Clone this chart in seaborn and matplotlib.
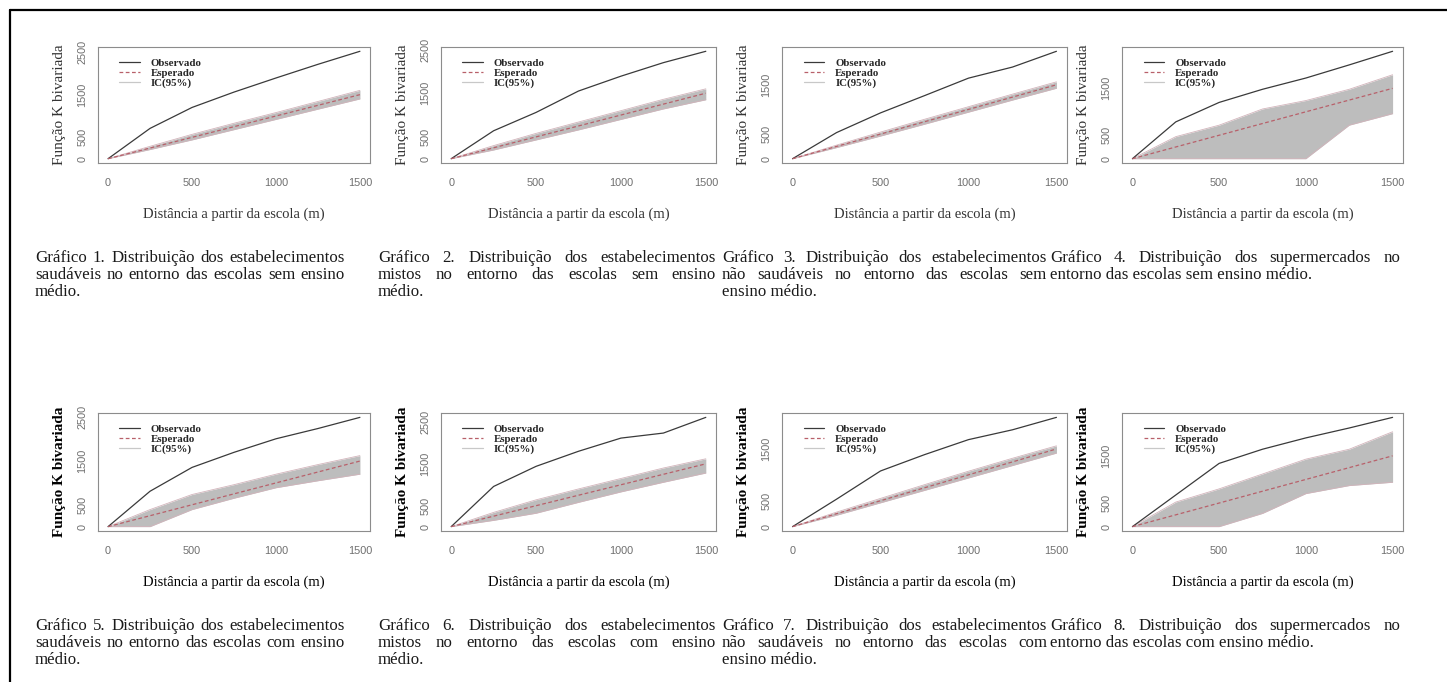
import matplotlib
matplotlib.use("Agg")
import numpy as np
import seaborn as sns
import matplotlib.pyplot as plt
from matplotlib.lines import Line2D

sns.set_style("white")
plt.rcParams['font.family'] = ['Liberation Serif', 'DejaVu Serif']

# distance (m) at which the K functions were evaluated
dist = [0, 250, 500, 750, 1000, 1250, 1500]
expected = [0, 250, 500, 750, 1000, 1250, 1500]

# observed curve and 95% envelope (lo, hi) for each chart
obs_1 = [0, 710, 1200, 1560, 1890, 2210, 2515]
lo_1 = [0, 215, 440, 680, 920, 1160, 1400]
hi_1 = [0, 290, 570, 830, 1080, 1340, 1600]

obs_2 = [0, 640, 1060, 1550, 1890, 2200, 2460]
lo_2 = [0, 200, 430, 660, 900, 1140, 1350]
hi_2 = [0, 300, 580, 840, 1100, 1360, 1600]

obs_3 = [0, 530, 930, 1280, 1635, 1860, 2180]
lo_3 = [0, 225, 460, 700, 945, 1190, 1430]
hi_3 = [0, 275, 540, 800, 1055, 1310, 1560]

obs_4 = [0, 785, 1200, 1480, 1720, 2000, 2290]
lo_4 = [0, 0, 0, 0, 0, 715, 960]
hi_4 = [0, 470, 715, 1060, 1240, 1480, 1790]

obs_5 = [0, 810, 1355, 1700, 2010, 2245, 2500]
lo_5 = [0, 0, 390, 650, 890, 1050, 1200]
hi_5 = [0, 390, 735, 960, 1200, 1420, 1625]

obs_6 = [0, 960, 1440, 1800, 2115, 2235, 2610]
lo_6 = [0, 150, 320, 580, 830, 1060, 1280]
hi_6 = [0, 340, 640, 900, 1150, 1400, 1620]

obs_7 = [0, 530, 1075, 1390, 1680, 1870, 2110]
lo_7 = [0, 220, 460, 700, 940, 1180, 1420]
hi_7 = [0, 280, 545, 810, 1070, 1320, 1560]

obs_8 = [0, 670, 1340, 1640, 1880, 2090, 2315]
lo_8 = [0, 0, 0, 280, 700, 870, 940]
hi_8 = [0, 520, 800, 1115, 1430, 1640, 2010]

observed = [obs_1, obs_2, obs_3, obs_4, obs_5, obs_6, obs_7, obs_8]
env_lo = [lo_1, lo_2, lo_3, lo_4, lo_5, lo_6, lo_7, lo_8]
env_hi = [hi_1, hi_2, hi_3, hi_4, hi_5, hi_6, hi_7, hi_8]

# y tick labels shown (R drops the ones that overlap)
ytick_big = [0, 500, 1000, 1500, 2000, 2500]
ylab_big = ["0", "500", "", "1500", "", "2500"]
ytick_small = [0, 500, 1000, 1500, 2000]
ylab_small = ["0", "500", "", "1500", ""]
xticks = [0, 500, 1000, 1500]

legend_labels = ["Observado", "Esperado", "IC(95%)"]
xlabel = "Distância a partir da escola (m)"
ylabel = "Função K bivariada"

captions = [
    ["Gráfico 1. Distribuição dos estabelecimentos", "saudáveis no entorno das escolas sem ensino", "médio."],
    ["Gráfico 2. Distribuição dos estabelecimentos", "mistos no entorno das escolas sem ensino", "médio."],
    ["Gráfico 3. Distribuição dos estabelecimentos", "não saudáveis no entorno das escolas sem", "ensino médio."],
    ["Gráfico 4. Distribuição dos supermercados no", "entorno das escolas sem ensino médio."],
    ["Gráfico 5. Distribuição dos estabelecimentos", "saudáveis no entorno das escolas com ensino", "médio."],
    ["Gráfico 6. Distribuição dos estabelecimentos", "mistos no entorno das escolas com ensino", "médio."],
    ["Gráfico 7. Distribuição dos estabelecimentos", "não saudáveis no entorno das escolas com", "ensino médio."],
    ["Gráfico 8. Distribuição dos supermercados no", "entorno das escolas com ensino médio."],
]

W, H = 1447, 682
fig = plt.figure(figsize=(W / 100, H / 100), dpi=100)

# page border (top and left only)
fig.add_artist(Line2D([10 / W, 1], [1 - 10 / H, 1 - 10 / H], color="black", lw=1.6))
fig.add_artist(Line2D([10 / W, 10 / W], [0, 1 - 10 / H], color="black", lw=1.6))

# axes boxes in pixels: left, right
cols = [(98, 370), (441, 716), (782, 1067), (1122, 1403)]
rows = [(47, 163), (413, 531)]
cap_cols = [(35, 345), (378, 716), (722, 1047), (1050, 1400)]
cap_rows = [258, 626]

gray_box = "#8c8c8c"
obs_col = "#3a3a3a"
exp_col = "#b8606a"
env_col = "#bdbdbd"
env_edge = "#d2b4bb"
tick_col = "#6e6e6e"

renderer = fig.canvas.get_renderer()


def justified(lines, x0, x1, ytop, size=12.2, lh=17):
    for i, line in enumerate(lines):
        yy = 1 - (ytop + i * lh) / H
        words = line.split()
        if i == len(lines) - 1 and len(lines) > 1 or len(words) == 1:
            fig.text(x0 / W, yy, line, fontsize=size, va="center", ha="left", color="#1a1a1a")
            continue
        texts = [fig.text(0, yy, w, fontsize=size, va="center", ha="left", color="#1a1a1a") for w in words]
        widths = [t.get_window_extent(renderer).width for t in texts]
        gap = (x1 - x0 - sum(widths)) / (len(words) - 1)
        x = x0
        for t, w in zip(texts, widths):
            t.set_x(x / W)
            x += w + gap


for k in range(8):
    r, c = divmod(k, 4)
    left, right = cols[c]
    top, bottom = rows[r]
    ax = fig.add_axes([left / W, 1 - bottom / H, (right - left) / W, (bottom - top) / H])

    m = max(max(observed[k]), max(env_hi[k]))
    ax.fill_between(dist, env_lo[k], env_hi[k], color=env_col, lw=0)
    sns.lineplot(x=dist, y=env_lo[k], ax=ax, color=env_edge, lw=0.6)
    sns.lineplot(x=dist, y=env_hi[k], ax=ax, color=env_edge, lw=0.6)
    sns.lineplot(x=dist, y=observed[k], ax=ax, color=obs_col, lw=0.9)
    sns.lineplot(x=dist, y=expected, ax=ax, color=exp_col, lw=0.9, linestyle=(0, (3, 2)))

    ax.set_xlim(-60, 1560)
    ax.set_ylim(-0.04 * m, 1.04 * m)
    ax.set_xticks(xticks)
    ax.set_xticklabels([str(v) for v in xticks], family="Liberation Sans", fontsize=7.8, color=tick_col)
    if m > 2400:
        ax.set_yticks(ytick_big)
        ax.set_yticklabels(ylab_big, rotation=90, va="center", family="Liberation Sans", fontsize=7.8, color=tick_col)
    else:
        ax.set_yticks(ytick_small)
        ax.set_yticklabels(ylab_small, rotation=90, va="center", family="Liberation Sans", fontsize=7.8, color=tick_col)
    ax.tick_params(axis="both", direction="out", length=3.5, width=0.6, color=gray_box)
    ax.tick_params(axis="x", pad=7)
    ax.tick_params(axis="y", pad=4)
    for s in ax.spines.values():
        s.set_color(gray_box)
        s.set_linewidth(0.8)

    ax.set_xlabel(xlabel, fontsize=10.5, color="#333333" if r == 0 else "black", labelpad=14)
    ax.set_ylabel(ylabel, fontsize=11, fontweight="bold" if r == 1 else "normal",
                  color="#333333" if r == 0 else "black", labelpad=8)

    handles = [
        Line2D([], [], color=obs_col, lw=0.9),
        Line2D([], [], color=exp_col, lw=0.9, linestyle=(0, (3, 2))),
        Line2D([], [], color="#c8c8c8", lw=0.9),
    ]
    ax.legend(handles, legend_labels, loc="upper left", frameon=False,
              prop={"family": "Liberation Serif", "size": 7.8, "weight": "bold"},
              handlelength=1.9, handletextpad=1.0, labelspacing=0.05,
              borderaxespad=0.3, bbox_to_anchor=(0.05, 0.97))

    x0, x1 = cap_cols[c]
    justified(captions[k], x0, x1, cap_rows[r])

fig.savefig("out.png", dpi=100)
